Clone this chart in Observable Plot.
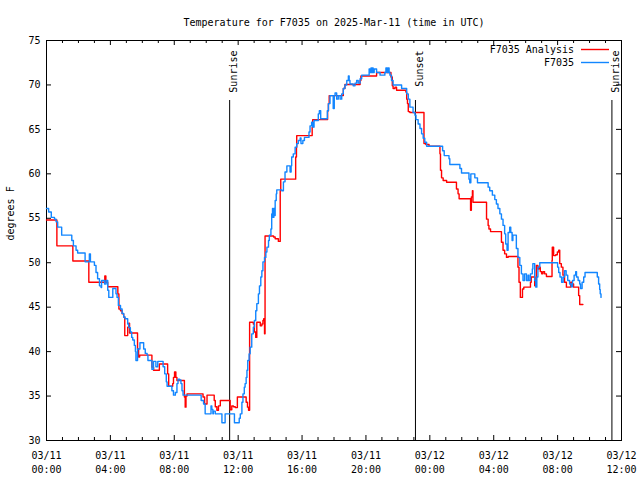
<!DOCTYPE html>
<html><head><meta charset="utf-8">
<script src="https://cdn.jsdelivr.net/npm/d3@7"></script>
<script src="https://cdn.jsdelivr.net/npm/@observablehq/plot@0.6"></script>
<style>body{margin:0;background:#fff}</style>
</head><body><div id="chart"></div>
<script>
// minutes since 2025-03-11 00:00 UTC
const analysisMinutes = [0,39,99,159,219,223,230,268,272,278,284,290,294,305,309,312,342,346,350,396,402,424,455,459,474,477,481,486,490,518,521,524,528,588,594,603,630,634,640,646,653,690,696,702,709,717,750,755,759,763,777,781,786,790,803,809,813,816,819,821,853,859,871,878,880,936,939,940,998,1000,1056,1059,1062,1115,1121,1178,1181,1240,1294,1299,1302,1309,1315,1350,1353,1356,1359,1365,1418,1425,1437,1478,1480,1484,1490,1503,1540,1546,1550,1593,1596,1600,1602,1653,1659,1662,1668,1709,1715,1721,1728,1734,1771,1775,1780,1788,1793,1818,1821,1834,1838,1840,1846,1850,1855,1860,1865,1871,1878,1899,1900,1905,1913,1919,1924,1928,1934,1940,1946,1953,1969,1975,1980,1999,2003,2015];
const analysisTemp = [54.8,51.9,50.2,47.8,48.5,47.8,47.3,46.5,44.8,44.6,44.25,43.9,41.8,42.75,43.2,42.1,40.3,39.4,39.6,38.25,37.9,38.6,37.5,36.1,36.4,37.1,37.7,37.1,36.75,34.9,33.75,35.0,35.25,34.9,34.1,35.1,34.5,33.8,33.4,33.9,34.5,33.45,33.9,33.8,33.7,34.9,34.3,33.75,33.4,43.3,43.1,42.2,41.6,43.3,42.9,43.1,43.5,43.7,42.0,53.0,52.9,52.7,52.4,58.1,59.4,61.9,63.0,64.3,65.25,66.1,67.1,67.9,68.8,69.6,70.05,70.5,71.0,71.4,70.9,69.9,69.6,69.75,69.4,69.2,68.4,67.9,67.0,66.9,63.4,63.3,63.1,62.25,60.4,59.55,59.25,59.05,58.3,57.75,57.2,55.9,57.4,58.1,56.8,54.9,54.2,53.8,53.5,52.3,51.4,51.0,50.6,50.7,49.5,47.8,46.1,47.05,47.25,47.8,48.4,47.4,48.0,49.7,49.3,49.5,49.0,48.75,49.0,48.75,48.45,50.25,51.75,50.8,50.9,51.2,51.4,49.9,49.5,48.6,47.8,47.25,47.8,47.6,47.25,46.3,45.3,45.3];
const obsMinutes = [0,8,18,30,36,42,57,95,101,111,117,145,161,165,180,186,192,199,205,207,218,224,230,234,249,261,265,270,278,284,290,295,305,309,315,320,324,330,334,336,342,351,365,371,378,381,396,402,411,418,438,444,450,453,471,477,484,490,494,500,505,509,513,581,590,596,618,621,625,627,634,659,671,706,724,728,734,738,743,746,750,753,756,761,765,771,777,781,786,790,796,800,805,809,813,819,824,828,834,837,843,846,849,851,854,856,859,863,865,884,890,896,903,915,919,921,927,934,940,946,953,956,963,969,986,990,996,1000,1005,1021,1025,1030,1055,1059,1065,1077,1081,1084,1090,1096,1103,1109,1115,1121,1128,1134,1137,1140,1152,1159,1165,1171,1178,1184,1212,1215,1219,1221,1225,1227,1231,1240,1253,1271,1275,1280,1284,1287,1290,1296,1302,1334,1353,1359,1365,1377,1384,1388,1396,1403,1409,1415,1421,1428,1488,1494,1512,1515,1553,1559,1587,1590,1594,1609,1619,1659,1665,1675,1684,1690,1696,1703,1709,1715,1721,1725,1730,1734,1740,1744,1749,1752,1765,1771,1778,1784,1790,1796,1803,1809,1812,1818,1825,1827,1834,1838,1842,1846,1853,1920,1924,1929,1935,1941,1946,1952,1958,1965,1971,1976,1982,1988,1991,1997,2003,2006,2012,2018,2023,2069,2074,2078,2080,2083];
const obsTemp = [56.1,55.7,55.1,54.9,54.6,54.0,53.1,52.5,51.9,51.4,51.1,50.1,51.0,50.1,49.7,48.9,48.2,47.4,47.2,48.0,47.6,48.0,46.9,46.1,47.1,46.5,46.1,45.2,44.8,44.3,43.9,43.7,43.1,42.7,42.2,41.6,41.3,40.7,40.0,39.0,40.3,41.0,40.3,39.8,39.6,39.0,38.0,38.9,38.3,38.9,38.3,37.5,36.6,36.1,35.6,35.1,35.4,36.4,36.9,36.8,36.4,35.6,35.1,34.5,34.1,33.0,33.9,33.5,33.0,33.3,33.0,32.0,33.0,32.0,32.5,33.0,34.3,35.25,36.0,36.4,37.1,37.9,39.0,39.75,40.5,42.0,42.75,43.5,44.6,45.4,46.5,47.4,48.4,49.1,50.1,50.6,51.2,51.75,52.5,53.1,53.8,55.5,56.1,55.1,56.1,55.3,57.0,57.75,58.2,58.1,59.1,60.2,60.9,60.2,60.9,61.9,62.25,63.0,63.4,63.75,64.05,63.4,63.75,64.1,64.7,65.4,65.8,65.25,66.0,66.75,67.1,66.2,67.1,67.9,68.8,67.35,68.8,69.1,68.4,68.8,68.4,69.0,69.6,70.0,70.5,71.0,70.5,70.1,69.9,70.2,70.5,70.2,70.7,71.1,71.8,71.4,71.9,71.4,71.9,71.4,71.8,71.4,71.1,71.4,71.9,71.4,71.9,71.4,71.1,70.5,70.0,69.6,69.0,68.4,67.5,66.9,66.6,66.1,65.6,65.1,64.5,64.0,63.55,63.1,62.6,62.05,61.7,61.05,60.6,60.1,59.4,59.0,60.0,59.55,59.0,58.5,58.1,57.6,57.1,56.6,56.1,55.5,54.9,54.2,53.25,52.1,51.4,53.4,54.0,53.4,52.5,53.1,51.6,50.6,49.7,48.75,48.0,48.75,48.0,48.6,48.0,48.75,49.3,49.9,48.0,47.25,48.4,49.5,50.0,49.5,48.9,48.4,47.8,48.4,49.1,48.6,48.0,47.6,47.3,48.0,48.6,49.0,48.4,48.0,47.6,47.1,47.8,48.4,48.9,48.4,47.6,47.0,46.5,46.1];
const sunLabels = ["Sunrise","Sunset","Sunrise"];
const sunMinutes = [688, 1386, 2124];
const yTickValues = [30,35,40,45,50,55,60,65,70,75];
const seriesNames = ["F7035 Analysis","F7035"];
const seriesColors = ["#ff0000","#1286ff"];
const titleText = "Temperature for F7035 on 2025-Mar-11 (time in UTC)";
const yLabelText = "degrees F";

const t0 = Date.UTC(2025, 2, 11);
const toDate = m => new Date(t0 + m * 60000);
const analysis = analysisMinutes.map((m, i) => ({time: toDate(m), temp: analysisTemp[i]}));
const obs = obsMinutes.map((m, i) => ({time: toDate(m), temp: obsTemp[i]}));
const sun = sunMinutes.map((m, i) => ({time: toDate(m), label: sunLabels[i]}));

const W = 640, H = 480, mL = 46, mR = 19, mT = 40, mB = 40;
const fw = W - mL - mR, fh = H - mT - mB;
const start = toDate(0), end = toDate(36 * 60);
const hours = d3.utcHours(start, new Date(+end + 1));
const majorTicks = hours.filter(d => d.getUTCHours() % 4 === 0);
const minorTicks = hours.filter(d => d.getUTCHours() % 4 !== 0);
const fmt = d3.utcFormat("%m/%d\n%H:%M");
const FONT = "'DejaVu Sans Mono', 'Liberation Mono', monospace";

function legendMark(index, scales, values, dims) {
  const g = d3.create("svg:g").attr("font-family", FONT).attr("font-size", 10);
  const right = dims.width - dims.marginRight;
  seriesNames.forEach((name, i) => {
    const y = dims.marginTop + 9.5 + i * 13;
    g.append("text").attr("x", right - 47).attr("y", y).attr("text-anchor", "end")
      .attr("dy", "0.35em").attr("fill", "black").text(name);
    g.append("line").attr("x1", right - 40).attr("x2", right - 12).attr("y1", y).attr("y2", y)
      .attr("stroke", seriesColors[i]).attr("stroke-width", 1.4);
  });
  return g.node();
}

const chart = Plot.plot({
  width: W, height: H,
  marginLeft: mL, marginRight: mR, marginTop: mT, marginBottom: mB,
  style: {fontFamily: FONT, fontSize: "10px", background: "white", color: "black"},
  x: {type: "utc", domain: [start, end], axis: null},
  y: {domain: [30, 75], axis: null},
  marks: [
    Plot.frame({stroke: "black"}),
    Plot.ruleX(majorTicks, {x: d => d, insetTop: fh - 5, stroke: "black"}),
    Plot.ruleX(majorTicks, {x: d => d, insetBottom: fh - 5, stroke: "black"}),
    Plot.ruleX(minorTicks, {x: d => d, insetTop: fh - 3, stroke: "black"}),
    Plot.ruleX(minorTicks, {x: d => d, insetBottom: fh - 3, stroke: "black"}),
    Plot.ruleY(yTickValues, {y: d => d, insetRight: fw - 5, stroke: "black"}),
    Plot.ruleY(yTickValues, {y: d => d, insetLeft: fw - 5, stroke: "black"}),
    Plot.axisX({ticks: majorTicks, tickSize: 0, tickPadding: 9, tickFormat: fmt, lineHeight: 1.4, label: null, fill: "black"}),
    Plot.axisY({ticks: yTickValues, tickSize: 0, tickPadding: 6, label: null, fill: "black"}),
    Plot.ruleX(sun, {x: "time", insetTop: 60, stroke: "black"}),
    Plot.text(sun, {x: "time", text: "label", frameAnchor: "top", dy: 10, rotate: -90, textAnchor: "end", fill: "black"}),
    Plot.line(analysis, {x: "time", y: "temp", stroke: seriesColors[0], curve: "step-after", strokeWidth: 1.4}),
    Plot.line(obs, {x: "time", y: "temp", stroke: seriesColors[1], curve: "step-after", strokeWidth: 1.4}),
    Plot.text([titleText], {text: d => d, frameAnchor: "top", dy: -22, fill: "black"}),
    Plot.text([yLabelText], {text: d => d, frameAnchor: "left", dx: -36, rotate: -90, fill: "black"}),
    legendMark
  ]
});
document.getElementById("chart").appendChild(chart);
</script>
</body></html>
